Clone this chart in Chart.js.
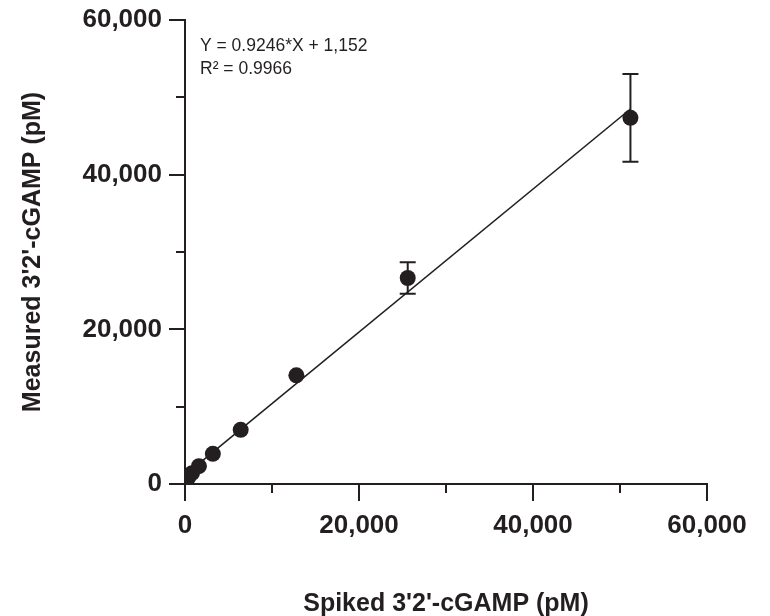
<!DOCTYPE html>
<html>
<head>
<meta charset="utf-8">
<script src="https://cdn.jsdelivr.net/npm/chart.js@4"></script>
<style>
  html, body { margin: 0; padding: 0; background: #ffffff; }
  #wrap { width: 770px; height: 616px; }
</style>
</head>
<body>
<div id="wrap"><canvas id="c" width="770" height="616"></canvas></div>
<script>
// ---- data ----
const spiked   = [100, 200, 400, 800, 1600, 3200, 6400, 12800, 25600, 51200];
const measured = [450, 600, 900, 1400, 2300, 3900, 7000, 14050, 26640, 47350];
const errorSD  = [0, 0, 0, 0, 0, 0, 0, 0, 2040, 5680];
const fitSlope = 0.9246;
const fitIntercept = 1152;
const equationLabel = "Y = 0.9246*X + 1,152";
const r2Label = "R\u00B2 = 0.9966";
const xTitle = "Spiked 3'2'-cGAMP (pM)";
const yTitle = "Measured 3'2'-cGAMP (pM)";
const axisMin = 0, axisMax = 60000, majorStep = 20000, minorStep = 10000;

const INK = '#231f20';
const FONT = "'Liberation Sans', Arial, Helvetica, sans-serif";

const points = spiked.map((x, i) => ({ x: x, y: measured[i] }));
const xLo = Math.min(...spiked), xHi = Math.max(...spiked);
const fitLine = [
  { x: xLo, y: fitSlope * xLo + fitIntercept },
  { x: xHi, y: fitSlope * xHi + fitIntercept }
];

const extras = {
  id: 'extras',
  afterDatasetsDraw(chart) {
    const ctx = chart.ctx;
    const xs = chart.scales.x, ys = chart.scales.y;
    ctx.save();
    ctx.strokeStyle = INK;
    ctx.lineWidth = 2;
    // error bars
    spiked.forEach((x, i) => {
      const sd = errorSD[i];
      if (!sd) return;
      const px = xs.getPixelForValue(x);
      const top = ys.getPixelForValue(measured[i] + sd);
      const bot = ys.getPixelForValue(measured[i] - sd);
      ctx.beginPath();
      ctx.moveTo(px, top); ctx.lineTo(px, bot);
      ctx.moveTo(px - 8, top); ctx.lineTo(px + 8, top);
      ctx.moveTo(px - 8, bot); ctx.lineTo(px + 8, bot);
      ctx.stroke();
    });
    // minor ticks
    for (let v = axisMin + minorStep; v < axisMax; v += majorStep) {
      const py = Math.round(ys.getPixelForValue(v));
      const left = chart.chartArea.left;
      ctx.beginPath();
      ctx.moveTo(left - 9, py); ctx.lineTo(left, py);
      ctx.stroke();
      const px = Math.round(xs.getPixelForValue(v));
      const bottom = chart.chartArea.bottom;
      ctx.beginPath();
      ctx.moveTo(px, bottom); ctx.lineTo(px, bottom + 9);
      ctx.stroke();
    }
    // equation annotation
    ctx.fillStyle = INK;
    ctx.font = "17.5px " + FONT;
    ctx.textBaseline = 'alphabetic';
    ctx.textAlign = 'left';
    const ax = chart.chartArea.left + 15;
    const ay = chart.chartArea.top + 31;
    ctx.fillText(equationLabel, ax, ay);
    ctx.fillText(r2Label, ax, ay + 23);
    ctx.restore();
  }
};

const tickFmt = v => (v % majorStep === 0) ? Number(v).toLocaleString('en-US') : '';
const gridCol = c => (c.tick && c.tick.value % majorStep === 0) ? INK : 'rgba(0,0,0,0)';

new Chart(document.getElementById('c'), {
  type: 'scatter',
  data: {
    datasets: [
      {
        label: 'Measured',
        data: points,
        order: 0,
        pointRadius: 8,
        pointHoverRadius: 8,
        backgroundColor: INK,
        borderColor: INK,
        borderWidth: 0
      },
      {
        label: 'Fit',
        data: fitLine,
        order: 1,
        type: 'line',
        showLine: true,
        pointRadius: 0,
        borderColor: INK,
        borderWidth: 1.6,
        fill: false
      }
    ]
  },
  options: {
    responsive: false,
    animation: false,
    layout: { padding: { top: 19, right: 63, bottom: 0, left: 0 } },
    plugins: { legend: { display: false }, tooltip: { enabled: false } },
    scales: {
      x: {
        type: 'linear',
        min: axisMin, max: axisMax,
        afterFit(s) { s.height = 132; },
        ticks: {
          stepSize: minorStep,
          autoSkip: false,
          maxRotation: 0,
          padding: 9,
          color: INK,
          font: { family: FONT, size: 26, weight: 'bold' },
          callback: tickFmt
        },
        grid: { drawOnChartArea: false, drawTicks: true, tickLength: 17, lineWidth: 2, color: gridCol },
        border: { display: true, color: INK, width: 2 },
        title: {
          display: true, text: xTitle, color: INK,
          font: { family: FONT, size: 25, weight: 'bold' },
          padding: { top: 0, bottom: -3 }
        }
      },
      y: {
        type: 'linear',
        min: axisMin, max: axisMax,
        afterFit(s) { s.width = 185; },
        ticks: {
          stepSize: minorStep,
          autoSkip: false,
          padding: 7,
          color: INK,
          font: { family: FONT, size: 26, weight: 'bold', lineHeight: 1.0 },
          callback: tickFmt
        },
        grid: { drawOnChartArea: false, drawTicks: true, tickLength: 16, lineWidth: 2, color: gridCol },
        border: { display: true, color: INK, width: 2 },
        title: {
          display: true, text: yTitle, color: INK,
          font: { family: FONT, size: 25, weight: 'bold' },
          padding: { top: 18, bottom: 0 }
        }
      }
    }
  },
  plugins: [extras]
});
</script>
</body>
</html>
